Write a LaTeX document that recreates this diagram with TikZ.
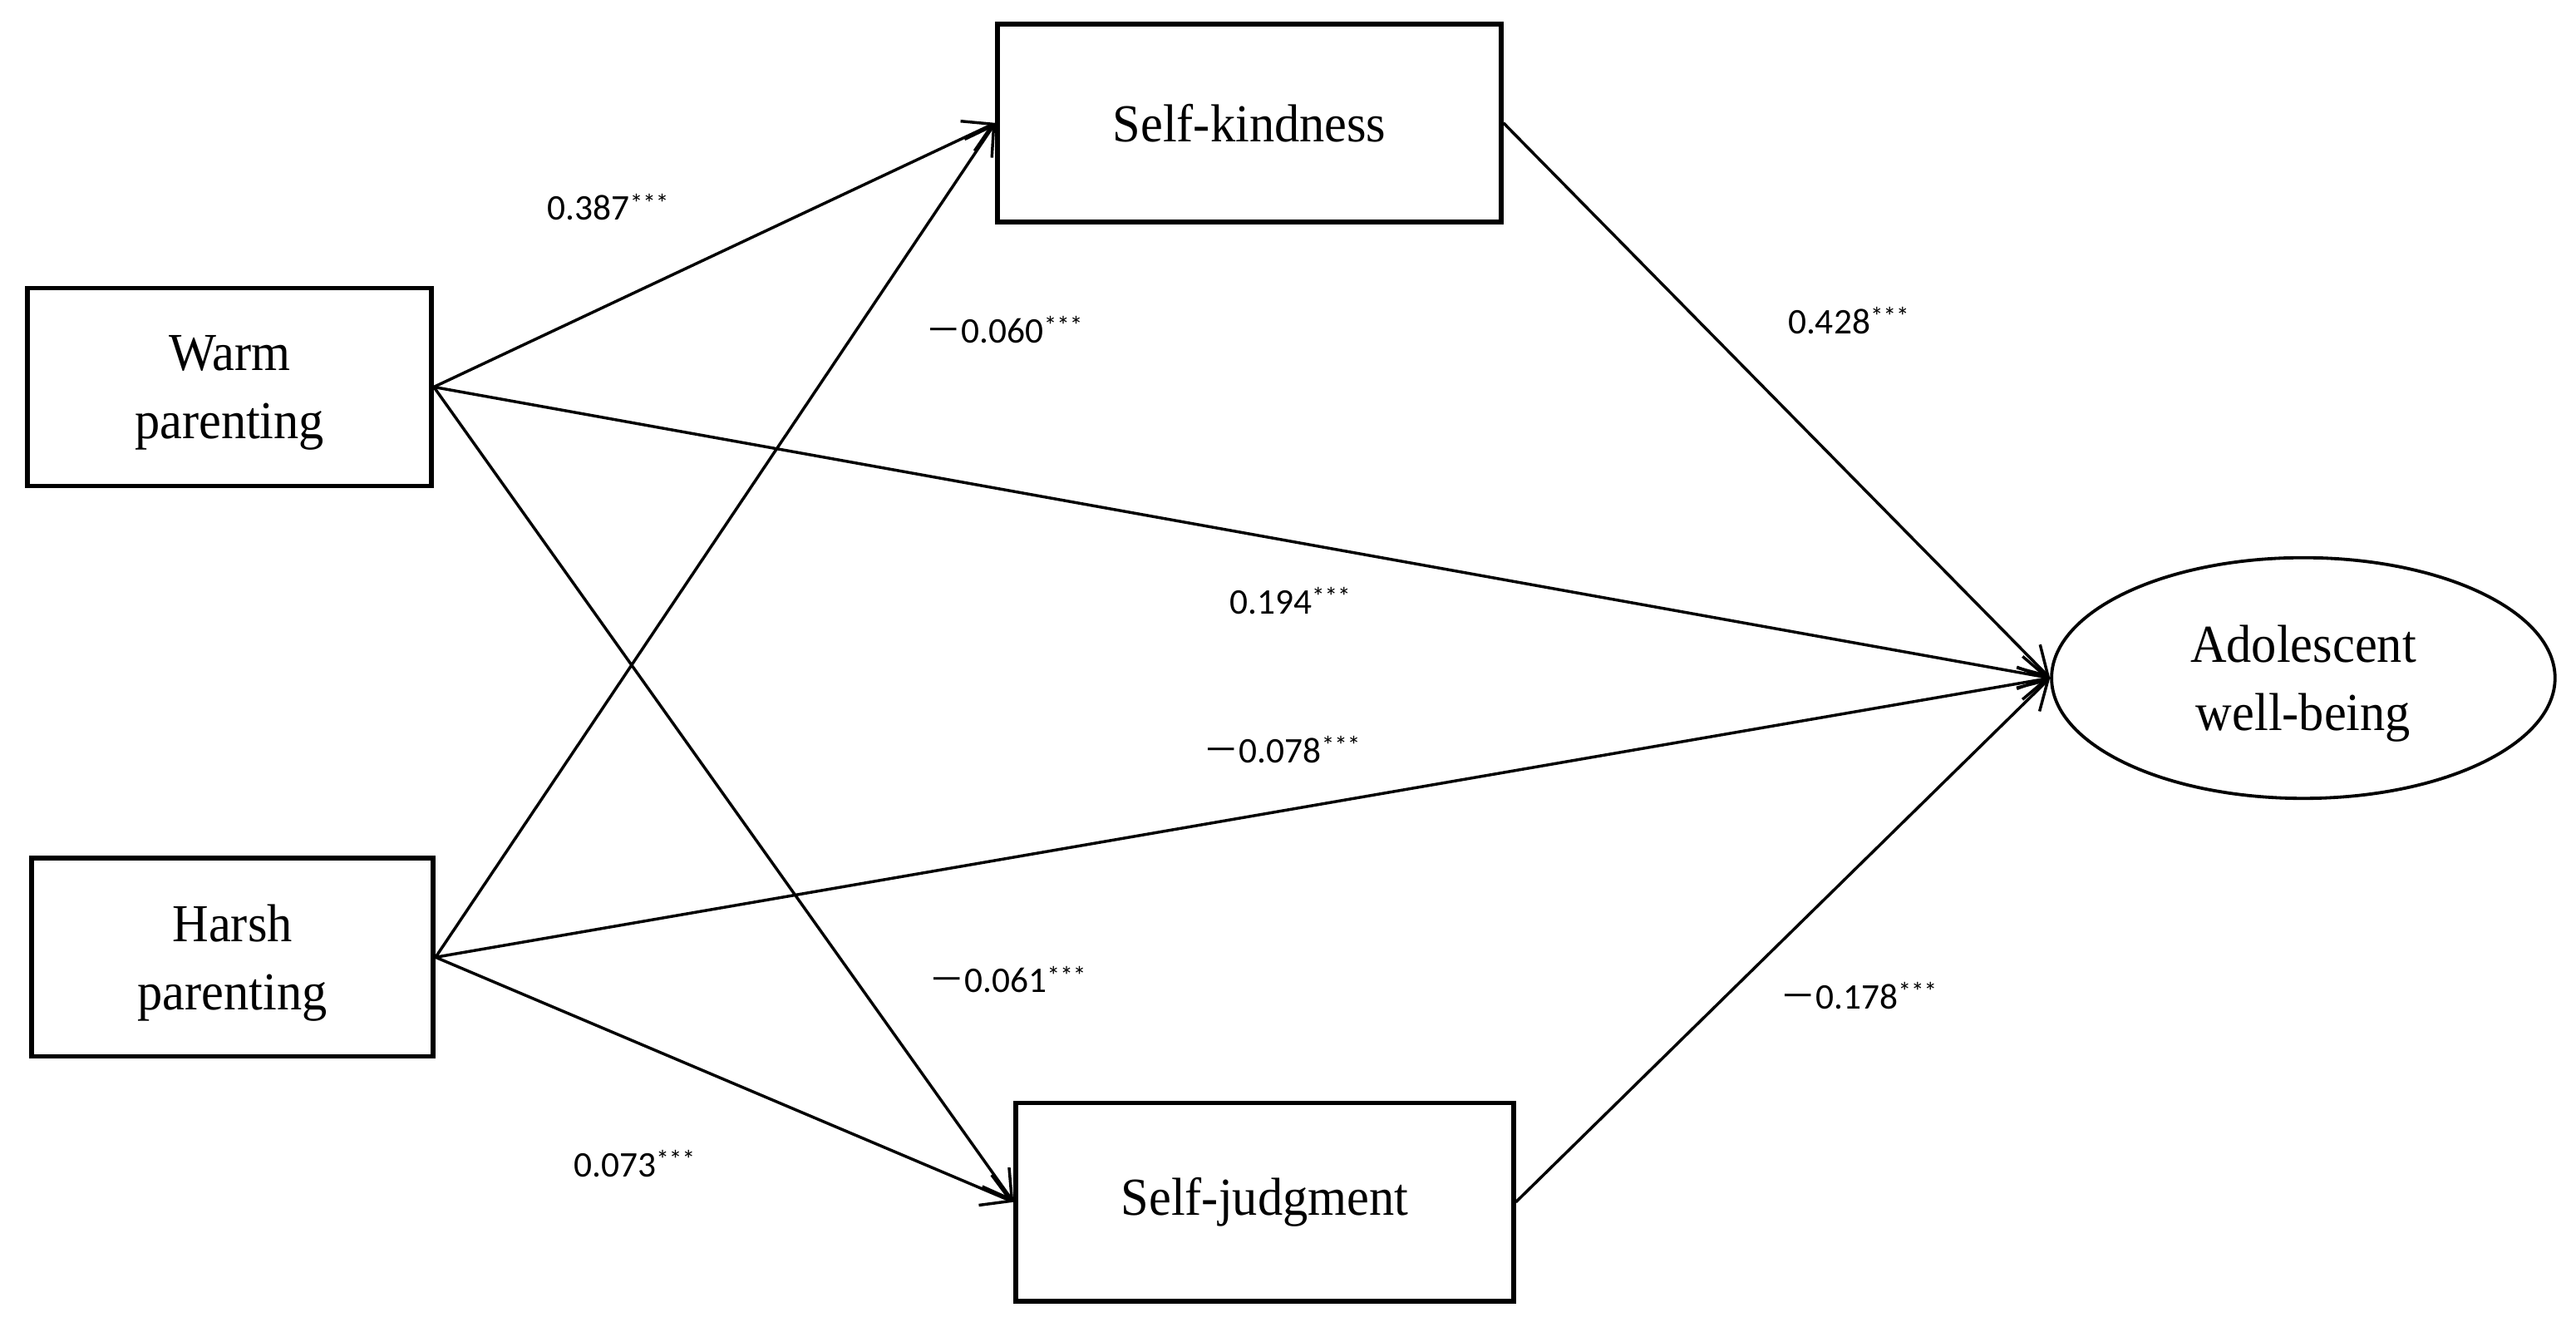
\documentclass[tikz,border=0pt]{standalone}
\usepackage{fontspec}
\setmainfont{Liberation Serif}[FakeStretch=0.94]
\newfontfamily\numfont{Carlito}
\newfontfamily\cjk{Noto Sans CJK SC}
\usetikzlibrary{arrows.meta,shapes.geometric}
\newcommand\sigstars{\raisebox{0.22em}{\fontsize{9}{10}\selectfont ***}}
\newcommand\negsign{{\cjk －}}
\begin{document}
\begin{tikzpicture}[x=0.02cm,y=-0.02cm,
  boxtext/.style={align=center, inner sep=0pt, font=\fontsize{18.5}{23.5}\selectfont},
  twoline/.style={label={[boxtext, yshift=-0.07cm]center:#1}},
  box/.style={draw, line width=1.6pt, minimum width=#1, minimum height=2.41cm, boxtext},
  oval/.style={draw, ellipse, line width=1.1pt, minimum width=6.13cm, minimum height=2.93cm, boxtext},
  conn/.style={line width=1pt, -{Straight Barb[length=3.4mm,width=4mm]}},
  lab/.style={anchor=base west, inner sep=0pt, font=\numfont\fontsize{12.5}{14}\selectfont}]
\useasboundingbox (0,0) rectangle (1568,813.1);
\node[box=4.92cm, twoline={Warm\\parenting}] (warm) at (139.7,235.5) {};
\node[box=4.89cm, twoline={Harsh\\parenting}] (harsh) at (141.5,582.5) {};
\node[box=6.13cm] (sk) at (760.5,74.8) {Self-kindness};
\node[box=6.06cm] (sj) at (769.8,731.5) {\raisebox{-0.04cm}{Self-judgment}};
\node[oval, twoline={Adolescent\\well-being}] (wb) at (1402,412.6) {};
\draw[conn] (warm.east) -- (sk.west);
\draw[conn] (warm.east) -- (sj.west);
\draw[conn] (warm.east) -- (wb.west);
\draw[conn] (harsh.east) -- (sk.west);
\draw[conn] (harsh.east) -- (sj.west);
\draw[conn] (harsh.east) -- (wb.west);
\draw[conn] (sk.east) -- (wb.west);
\draw[conn] (sj.east) -- (wb.west);
\node[lab] (l1) at (333,134) {0.387\sigstars};
\node[lab] (l2) at (563,208.5) {\negsign0.060\sigstars};
\node[lab] (l3) at (1088,203) {0.428\sigstars};
\node[lab] (l4) at (748,373.5) {0.194\sigstars};
\node[lab] (l5) at (732,464) {\negsign0.078\sigstars};
\node[lab] (l6) at (565,604) {\negsign0.061\sigstars};
\node[lab] (l7) at (1083,614) {\negsign0.178\sigstars};
\node[lab] (l8) at (349,716) {0.073\sigstars};
\end{tikzpicture}
\end{document}
